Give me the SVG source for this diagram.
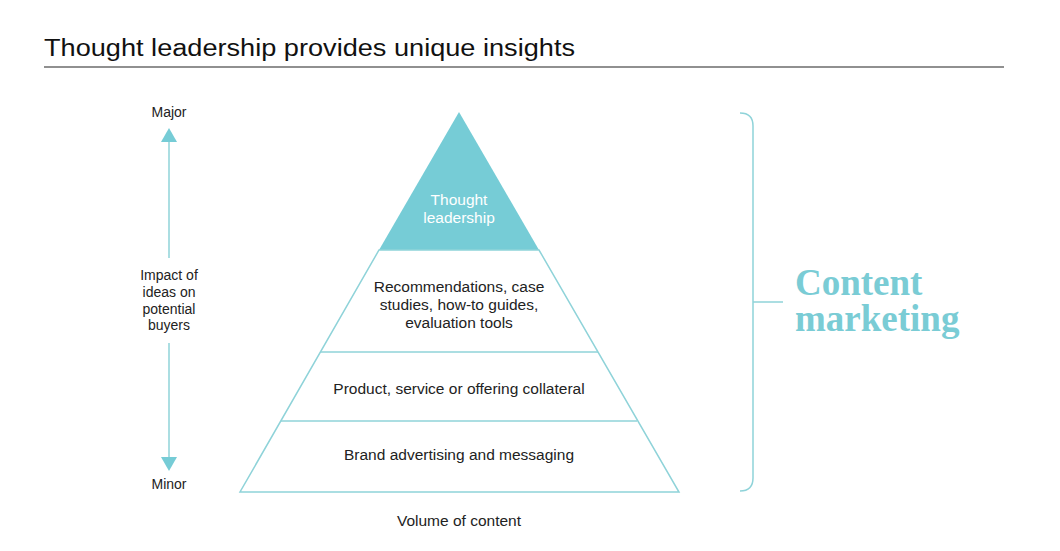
<svg xmlns="http://www.w3.org/2000/svg" width="1060" height="551" viewBox="0 0 1060 551">
<style>
.t{font-family:"Liberation Sans",Arial,sans-serif;font-size:15.5px;fill:#222;text-anchor:middle}
.ax{font-family:"Liberation Sans",Arial,sans-serif;font-size:14px;fill:#222;text-anchor:middle}
.ln{fill:none;stroke:#8fd3d9;stroke-width:1.5}
.cm{font-family:"Liberation Serif","Times New Roman",serif;font-size:37px;font-weight:bold;fill:#7accd5}
</style>
<rect width="1060" height="551" fill="#fff"/>
<g id="title">
<text x="44" y="56" font-family="Liberation Sans,Arial,sans-serif" font-size="23" fill="#111" textLength="531" lengthAdjust="spacingAndGlyphs">Thought leadership provides unique insights</text>
<line x1="44" y1="67" x2="1004" y2="67" stroke="#6b6b6b" stroke-width="1.5"/>
</g>
<g id="pyramid">
<polygon points="459,112 539,250 379,250" fill="#76ccd6"/>
<polygon class="ln" points="379,250 539,250 679,492 240,492"/>
<line class="ln" x1="320" y1="352" x2="598" y2="352"/>
<line class="ln" x1="281" y1="421" x2="637" y2="421"/>
</g>
<g id="tier1">
<text class="t" x="459" y="205" style="fill:#fff">Thought</text>
<text class="t" x="459" y="223" style="fill:#fff">leadership</text>
</g>
<g id="tier2">
<text class="t" x="459" y="292">Recommendations, case</text>
<text class="t" x="459" y="310">studies, how-to guides,</text>
<text class="t" x="459" y="328">evaluation tools</text>
</g>
<g id="tier3"><text class="t" x="459" y="394">Product, service or offering collateral</text></g>
<g id="tier4"><text class="t" x="459" y="460">Brand advertising and messaging</text></g>
<g id="xlabel"><text class="t" x="459" y="526">Volume of content</text></g>
<g id="axis">
<text class="ax" x="169" y="117">Major</text>
<polygon points="169,128 177,142 161,142" fill="#76ccd6"/>
<line class="ln" x1="169" y1="142" x2="169" y2="258"/>
<text class="ax" x="169" y="280">Impact of</text>
<text class="ax" x="169" y="297">ideas on</text>
<text class="ax" x="169" y="314">potential</text>
<text class="ax" x="169" y="330">buyers</text>
<line class="ln" x1="169" y1="343" x2="169" y2="458"/>
<polygon points="161,457 177,457 169,471" fill="#76ccd6"/>
<text class="ax" x="169" y="489">Minor</text>
</g>
<g id="bracket">
<path class="ln" d="M740,113 Q753,113 753,126 L753,478 Q753,491 740,491"/>
<line class="ln" x1="753" y1="302" x2="783" y2="302"/>
<text class="cm" x="795" y="295">Content<tspan x="795" y="331">marketing</tspan></text>
</g>
</svg>
